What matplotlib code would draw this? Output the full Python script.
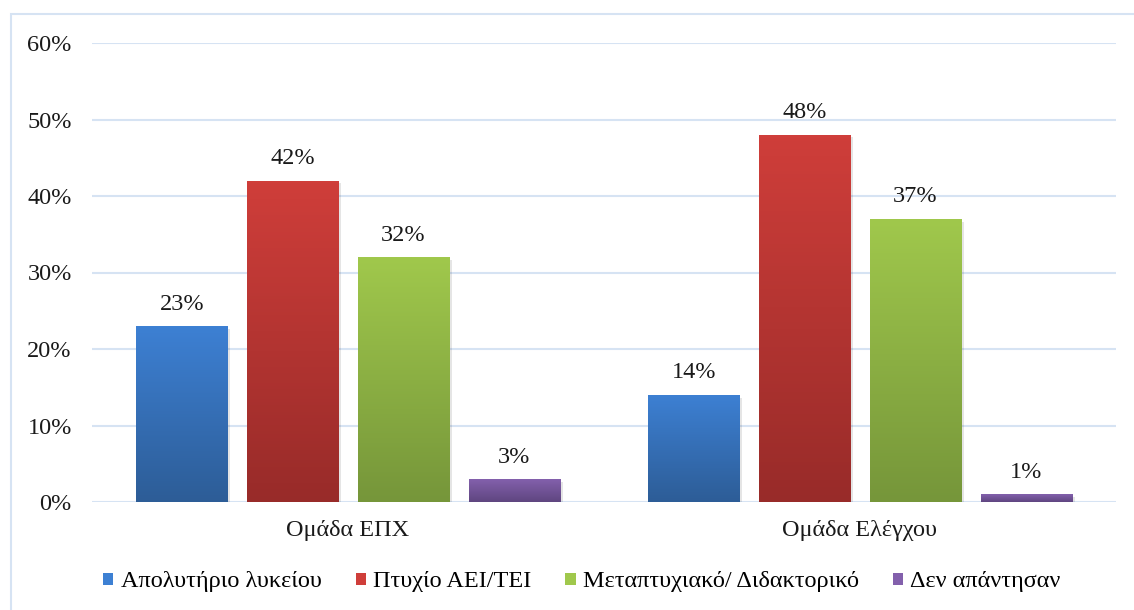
import numpy as np
import matplotlib.pyplot as plt
from matplotlib.colors import LinearSegmentedColormap
from matplotlib.patches import Rectangle

groups = ["Ομάδα ΕΠΧ", "Ομάδα Ελέγχου"]
series = ["Απολυτήριο λυκείου", "Πτυχίο ΑΕΙ/ΤΕΙ", "Μεταπτυχιακό/ Διδακτορικό", "Δεν απάντησαν"]
values = [
    [23, 14],
    [42, 48],
    [32, 37],
    [3, 1],
]
yticks = [0, 10, 20, 30, 40, 50, 60]

# top / bottom colours of each gradient fill
tops = ["#3D80D3", "#CF3E3A", "#A0C84C", "#8360AC"]
bottoms = ["#2D5D97", "#982B29", "#76963A", "#5F4680"]

plt.rcParams['font.family'] = ['Liberation Serif', 'DejaVu Serif']
FS = 17.5

fig = plt.figure(figsize=(11.34, 6.10), dpi=100)
fig.patches.append(Rectangle((11 / 1134, -0.1), 1.2, (610 - 14) / 610 + 0.1,
                             transform=fig.transFigure, fill=False,
                             edgecolor="#D6E3F3", linewidth=1.5))
ax = fig.add_axes([92 / 1134, 1 - 502 / 610, (1116 - 92) / 1134, (502 - 43) / 610])

x = np.arange(len(groups))
width = 0.178
step = 0.2165
offsets = (np.arange(len(series)) - 1.5) * step

for i, name in enumerate(series):
    bars = ax.bar(x + offsets[i], values[i], width, color=tops[i], label=name, zorder=2)
    cmap = LinearSegmentedColormap.from_list("g%d" % i, [bottoms[i], tops[i]])
    for j, b in enumerate(bars):
        b.set_facecolor("none")
        x0, y0 = b.get_x(), b.get_y()
        w, h = b.get_width(), b.get_height()
        # soft shadow
        ax.add_patch(Rectangle((x0 + 0.006, y0 - 0.35), w, h, facecolor="#000000",
                               alpha=0.10, linewidth=0, zorder=1))
        im = ax.imshow(np.linspace(0, 1, 100).reshape(-1, 1), cmap=cmap, aspect="auto",
                       extent=(x0, x0 + w, y0, y0 + h), origin="lower", zorder=2)
        im.set_clip_path(b)
        ax.text(x0 + w / 2, h + 1.5, "%d%%" % values[i][j],
                ha="center", va="bottom", fontsize=FS, color="#1a1a1a")

ax.set_xlim(-0.5, 1.5)
ax.set_ylim(0, 60)
ax.set_yticks(yticks)
ax.set_yticklabels(["%d%%" % t for t in yticks])
ax.set_xticks(x)
ax.set_xticklabels(groups)
ax.grid(axis="y", color="#D6E3F3", linewidth=1.5, zorder=0)
ax.set_axisbelow(True)
for s in ax.spines.values():
    s.set_visible(False)
ax.tick_params(length=0, labelsize=FS, colors="#1a1a1a")
ax.tick_params(axis="y", pad=14.5)
ax.tick_params(axis="x", pad=13)

handles = [Rectangle((0, 0), 1, 1, facecolor=tops[i]) for i in range(len(series))]
fig.legend(handles, series, loc="center", bbox_to_anchor=(582 / 1134, 1 - 582 / 610), ncol=4,
           frameon=False, fontsize=FS, handlelength=0.42, handleheight=0.42,
           handletextpad=0.3, columnspacing=1.4)

fig.savefig("out.png", dpi=100)
